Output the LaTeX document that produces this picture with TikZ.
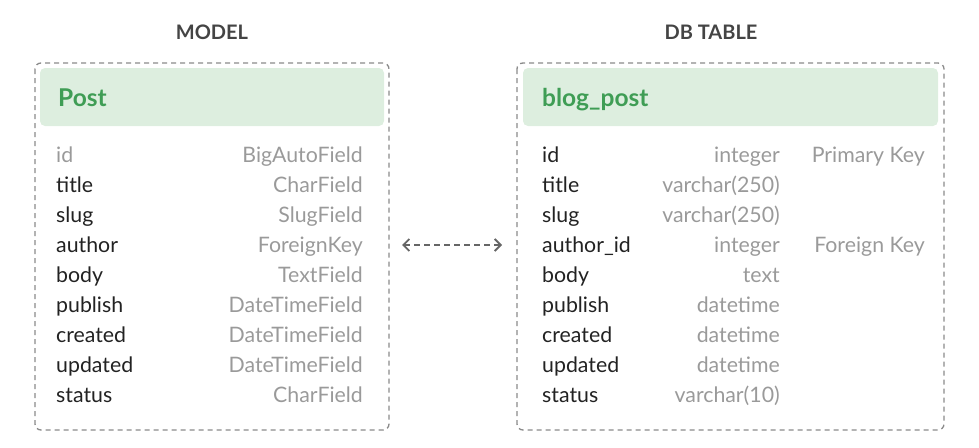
\documentclass[tikz,border=0pt]{standalone}
\usepackage{fontspec}
\setmainfont{Lato}
\usetikzlibrary{arrows.meta}
\definecolor{hdrfill}{HTML}{DDEEDF}
\definecolor{hdrtext}{HTML}{3F9D55}
\definecolor{boxline}{HTML}{8A8A8A}
\definecolor{linkcol}{HTML}{666666}
\definecolor{typegray}{HTML}{9A9A9A}
\definecolor{namecol}{HTML}{222222}
\definecolor{titlecol}{HTML}{444444}
\tikzset{
  x=1pt,y=-1pt,
  frame/.style={draw=boxline,line width=1.3pt,dash pattern=on 5pt off 4pt,rounded corners=6pt},
  hdr/.style={fill=hdrfill,rounded corners=5pt},
  hdrlabel/.style={anchor=base west,text=hdrtext,font=\fontsize{24.5}{28}\selectfont\bfseries,inner sep=0pt},
  title/.style={anchor=base,text=titlecol,font=\fontsize{20}{24}\selectfont\bfseries,inner sep=0pt},
  fname/.style={anchor=base west,text=namecol,font=\fontsize{21.3}{25}\selectfont,inner sep=0pt},
  ftype/.style={anchor=base east,text=typegray,font=\fontsize{21.3}{25}\selectfont,inner sep=0pt},
  link/.style={draw=linkcol,line width=1.4pt,dash pattern=on 6pt off 4pt,{Straight Barb[length=6pt,width=12pt,line width=1.8pt]}-{Straight Barb[length=6pt,width=12pt,line width=1.8pt]}}
}
\begin{document}
\begin{tikzpicture}
\useasboundingbox (0,0) rectangle (979,447);
% titles
\node[title] (tmodel) at (212,39) {MODEL};
\node[title] (tdb) at (711,39) {DB TABLE};
% left box
\draw[frame] (35,63) rectangle (389,430);
\fill[hdr] (40,68) rectangle (384,126);
\node[hdrlabel] (post) at (58,106) {Post};
% right box
\draw[frame] (517,63) rectangle (944,430);
\fill[hdr] (523,68) rectangle (938,126);
\node[hdrlabel] (blog) at (542,106) {blog\_post};
% left rows
\node[fname,text=typegray] (ln1) at (56,162) {id};
\node[ftype] (lt1) at (363,162) {BigAutoField};
\node[fname] (ln2) at (56,192) {title};
\node[ftype] (lt2) at (363,192) {CharField};
\node[fname] (ln3) at (56,222) {slug};
\node[ftype] (lt3) at (363,222) {SlugField};
\node[fname] (ln4) at (56,252) {author};
\node[ftype] (lt4) at (363,252) {ForeignKey};
\node[fname] (ln5) at (56,282) {body};
\node[ftype] (lt5) at (363,282) {TextField};
\node[fname] (ln6) at (56,312) {publish};
\node[ftype] (lt6) at (363,312) {DateTimeField};
\node[fname] (ln7) at (56,342) {created};
\node[ftype] (lt7) at (363,342) {DateTimeField};
\node[fname] (ln8) at (56,372) {updated};
\node[ftype] (lt8) at (363,372) {DateTimeField};
\node[fname] (ln9) at (56,402) {status};
\node[ftype] (lt9) at (363,402) {CharField};
% right rows
\node[fname] (rn1) at (542,162) {id};
\node[ftype] (rt1) at (780,162) {integer};
\node[ftype] (rk1) at (925,162) {Primary Key};
\node[fname] (rn2) at (542,192) {title};
\node[ftype] (rt2) at (780,192) {varchar(250)};
\node[fname] (rn3) at (542,222) {slug};
\node[ftype] (rt3) at (780,222) {varchar(250)};
\node[fname] (rn4) at (542,252) {author\_id};
\node[ftype] (rt4) at (780,252) {integer};
\node[ftype] (rk4) at (925,252) {Foreign Key};
\node[fname] (rn5) at (542,282) {body};
\node[ftype] (rt5) at (780,282) {text};
\node[fname] (rn6) at (542,312) {publish};
\node[ftype] (rt6) at (780,312) {datetime};
\node[fname] (rn7) at (542,342) {created};
\node[ftype] (rt7) at (780,342) {datetime};
\node[fname] (rn8) at (542,372) {updated};
\node[ftype] (rt8) at (780,372) {datetime};
\node[fname] (rn9) at (542,402) {status};
\node[ftype] (rt9) at (780,402) {varchar(10)};
% connector
\coordinate (a1) at (402,245);
\coordinate (a2) at (502,245);
\draw[link] (a1) -- (a2);
\end{tikzpicture}
\end{document}
